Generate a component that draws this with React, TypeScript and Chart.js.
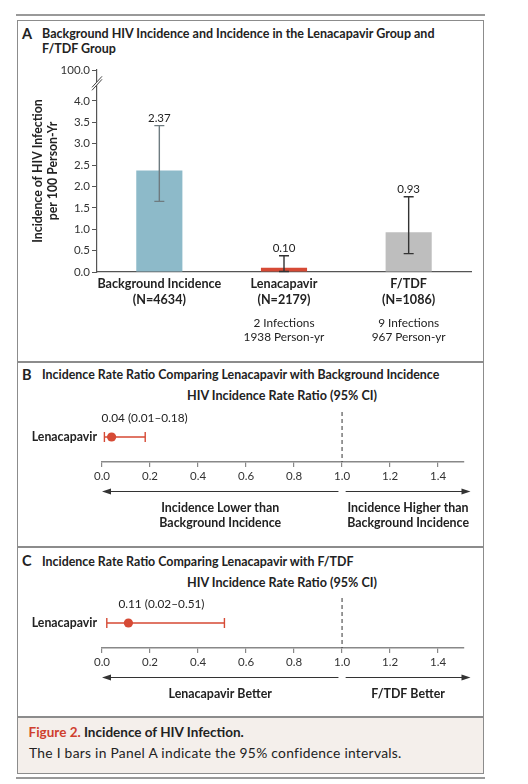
import React, { useEffect, useRef } from "react";
import { Chart, registerables } from "chart.js";

Chart.register(...registerables);

const FONT = "Lato, 'Open Sans', sans-serif";

// ---------- Panel A data ----------
const categories = ["Background Incidence", "Lenacapavir", "F/TDF"];
const sampleSizes = ["(N=4634)", "(N=2179)", "(N=1086)"];
const incidence = [2.37, 0.1, 0.93];
const ciLow = [1.65, 0.01, 0.43];
const ciHigh = [3.42, 0.38, 1.76];
const infectionLine1 = ["", "2 Infections", "9 Infections"];
const infectionLine2 = ["", "1938 Person-yr", "967 Person-yr"];
const barColors = ["#8dbac9", "#d64a35", "#bebebe"];
const errColors = ["#6e7b80", "#333333", "#333333"];
const yTicks = [0, 0.5, 1, 1.5, 2, 2.5, 3, 3.5, 4];
const yBreakValue = 4.72;
const yBreakLabel = "100.0";
const yTitle = ["Incidence of HIV Infection", "per 100 Person-Yr"];

// ---------- Panels B / C data ----------
const rrLabel = "Lenacapavir";
const rrEst = [0.04, 0.11];
const rrLow = [0.01, 0.02];
const rrHigh = [0.18, 0.51];
const rrText = ["0.04 (0.01\u20130.18)", "0.11 (0.02\u20130.51)"];
const rrTicks = [0, 0.2, 0.4, 0.6, 0.8, 1.0, 1.2, 1.4];
const rrMax = 1.508;
const leftNotes = [["Incidence Lower than", "Background Incidence"], ["Lenacapavir Better"]];
const rightNotes = [["Incidence Higher than", "Background Incidence"], ["F/TDF Better"]];
const RED = "#d64a35";

function barPlugin() {
  return {
    id: "barExtras",
    afterDatasetsDraw(chart: any) {
      const ctx = chart.ctx;
      const xs = chart.scales.x;
      const ys = chart.scales.y;
      ctx.save();
      for (let i = 0; i < categories.length; i++) {
        const x = xs.getPixelForValue(i);
        const yl = ys.getPixelForValue(ciLow[i]);
        const yh = ys.getPixelForValue(ciHigh[i]);
        ctx.strokeStyle = errColors[i];
        ctx.lineWidth = 1.4;
        ctx.beginPath();
        ctx.moveTo(x, yl);
        ctx.lineTo(x, yh);
        ctx.moveTo(x - 5, yl);
        ctx.lineTo(x + 5, yl);
        ctx.moveTo(x - 5, yh);
        ctx.lineTo(x + 5, yh);
        ctx.stroke();
        ctx.fillStyle = "#222";
        ctx.font = `11.5px ${FONT}`;
        ctx.textAlign = "center";
        ctx.textBaseline = "middle";
        ctx.fillText(incidence[i].toFixed(2), x, yh - 7);
        // category labels
        ctx.font = `bold 12.6px ${FONT}`;
        ctx.fillText(categories[i], x, ys.bottom + 11.5);
        ctx.fillText(sampleSizes[i], x, ys.bottom + 27.5);
        ctx.font = `11.8px ${FONT}`;
        ctx.fillText(infectionLine1[i], x, ys.bottom + 51);
        ctx.fillText(infectionLine2[i], x, ys.bottom + 65);
      }
      // axis break
      const yTop = ys.getPixelForValue(yBreakValue);
      const y4 = ys.getPixelForValue(4);
      const yb = yTop * 0.6 + y4 * 0.4;
      const ax = xs.left;
      ctx.fillStyle = "#fff";
      ctx.beginPath();
      ctx.moveTo(ax - 4, yb + 4);
      ctx.lineTo(ax + 4, yb - 5);
      ctx.lineTo(ax + 4, yb - 2);
      ctx.lineTo(ax - 4, yb + 7);
      ctx.closePath();
      ctx.fill();
      ctx.strokeStyle = "#444";
      ctx.lineWidth = 1;
      ctx.beginPath();
      ctx.moveTo(ax - 5, yb + 5);
      ctx.lineTo(ax + 5, yb - 6);
      ctx.moveTo(ax - 5, yb + 8);
      ctx.lineTo(ax + 5, yb - 3);
      ctx.stroke();
      // y title
      ctx.translate(38, (ys.top + ys.bottom) / 2);
      ctx.rotate(-Math.PI / 2);
      ctx.fillStyle = "#222";
      ctx.font = `bold 12.3px ${FONT}`;
      ctx.textAlign = "center";
      ctx.textBaseline = "middle";
      ctx.fillText(yTitle[0], 0, 0);
      ctx.fillText(yTitle[1], 0, 15.5);
      ctx.restore();
    },
  };
}

function forestPlugin(k: number) {
  return {
    id: "forest" + k,
    beforeDatasetsDraw(chart: any) {
      const ctx = chart.ctx;
      const xs = chart.scales.x;
      const ys = chart.scales.y;
      const y = ys.getPixelForValue(0.5);
      ctx.save();
      const x1 = xs.getPixelForValue(1);
      ctx.strokeStyle = "#333";
      ctx.lineWidth = 1;
      ctx.setLineDash([4, 3]);
      ctx.beginPath();
      ctx.moveTo(x1, ys.top);
      ctx.lineTo(x1, ys.bottom);
      ctx.stroke();
      ctx.setLineDash([]);
      const xl = xs.getPixelForValue(rrLow[k]);
      const xh = xs.getPixelForValue(rrHigh[k]);
      ctx.strokeStyle = RED;
      ctx.lineWidth = 1.4;
      ctx.beginPath();
      ctx.moveTo(xl, y);
      ctx.lineTo(xh, y);
      ctx.moveTo(xl, y - 5);
      ctx.lineTo(xl, y + 5);
      ctx.moveTo(xh, y - 5);
      ctx.lineTo(xh, y + 5);
      ctx.stroke();
      const xe = xs.getPixelForValue(rrEst[k]);
      ctx.fillStyle = "#222";
      ctx.font = `11.8px ${FONT}`;
      ctx.textAlign = "left";
      ctx.textBaseline = "middle";
      ctx.fillText(rrText[k], xe - 10, ys.top + 6.5);
      ctx.font = `bold 12.3px ${FONT}`;
      ctx.textAlign = "right";
      ctx.fillText(rrLabel, 97, y);
      const ay = ys.bottom + 29.5;
      const aL0 = xs.getPixelForValue(0);
      const aL1 = xs.getPixelForValue(0.985);
      const aR0 = xs.getPixelForValue(1.015);
      const aR1 = xs.getPixelForValue(1.535);
      ctx.strokeStyle = "#333";
      ctx.fillStyle = "#333";
      ctx.lineWidth = 1.1;
      ctx.beginPath();
      ctx.moveTo(aL1, ay);
      ctx.lineTo(aL0 + 4, ay);
      ctx.moveTo(aR0, ay);
      ctx.lineTo(aR1 - 4, ay);
      ctx.stroke();
      ctx.beginPath();
      ctx.moveTo(aL0, ay);
      ctx.lineTo(aL0 + 9, ay - 3);
      ctx.lineTo(aL0 + 9, ay + 3);
      ctx.closePath();
      ctx.fill();
      ctx.beginPath();
      ctx.moveTo(aR1, ay);
      ctx.lineTo(aR1 - 9, ay - 3);
      ctx.lineTo(aR1 - 9, ay + 3);
      ctx.closePath();
      ctx.fill();
      ctx.fillStyle = "#222";
      ctx.font = `bold 12.4px ${FONT}`;
      ctx.textAlign = "center";
      leftNotes[k].forEach((t, j) => ctx.fillText(t, (aL0 + aL1) / 2, ys.bottom + 46 + j * 14.7));
      rightNotes[k].forEach((t, j) => ctx.fillText(t, (aR0 + aR1) / 2, ys.bottom + 46 + j * 14.7));
      ctx.restore();
    },
  };
}

function makeForest(canvas: HTMLCanvasElement, k: number, padTop: number, padBottom: number) {
  return new Chart(canvas, {
    type: "scatter",
    data: {
      datasets: [
        {
          data: [{ x: rrEst[k], y: 0.5 }],
          pointRadius: 4.6,
          pointBackgroundColor: RED,
          pointBorderColor: RED,
          pointBorderWidth: 0,
        },
      ],
    },
    options: {
      responsive: false,
      animation: false,
      events: [],
      layout: { padding: { left: 102, right: 64, top: padTop, bottom: padBottom } },
      plugins: { legend: { display: false }, tooltip: { enabled: false } },
      scales: {
        x: {
          type: "linear",
          min: 0,
          max: rrMax,
          afterBuildTicks: (s: any) => {
            s.ticks = rrTicks.map((v) => ({ value: v }));
          },
          afterFit: (s: any) => {
            s.height = 25;
          },
          ticks: {
            callback: (v: any) => Number(v).toFixed(1),
            color: "#333",
            font: { family: FONT, size: 11.5 },
            padding: 2,
            maxRotation: 0,
          },
          grid: { display: true, drawOnChartArea: false, drawTicks: true, tickLength: 5, color: "#888", lineWidth: 1.2 },
          border: { display: true, color: "#888", width: 1.5 },
        },
        y: { display: false, min: 0, max: 1 },
      },
    } as any,
    plugins: [forestPlugin(k)],
  });
}

function Txt(props: {
  x: number;
  y: number;
  size: number;
  bold?: boolean;
  color?: string;
  spacing?: number;
  align?: "left" | "center" | "right";
  children: React.ReactNode;
}) {
  const lh = props.size * 1.25;
  const tr = props.align === "center" ? "translateX(-50%)" : props.align === "right" ? "translateX(-100%)" : undefined;
  return (
    <div
      style={{
        position: "absolute",
        left: props.x,
        top: props.y - lh / 2,
        fontSize: props.size,
        lineHeight: lh + "px",
        fontWeight: props.bold ? 700 : 400,
        color: props.color || "#222",
        whiteSpace: "nowrap",
        letterSpacing: props.spacing ? props.spacing + "px" : undefined,
        transform: tr,
        fontFamily: FONT,
      }}
    >
      {props.children}
    </div>
  );
}

export default function App() {
  const refA = useRef<HTMLCanvasElement>(null);
  const refB = useRef<HTMLCanvasElement>(null);
  const refC = useRef<HTMLCanvasElement>(null);

  useEffect(() => {
    Chart.defaults.font.family = FONT;
    const chartA = new Chart(refA.current!, {
      type: "bar",
      data: {
        labels: categories,
        datasets: [
          {
            data: incidence,
            backgroundColor: barColors,
            borderWidth: 0,
            barPercentage: 0.37,
            categoryPercentage: 1,
          },
        ],
      },
      options: {
        responsive: false,
        animation: false,
        events: [],
        layout: { padding: { left: 0, top: 70, right: 57, bottom: 50 } },
        plugins: { legend: { display: false }, tooltip: { enabled: false } },
        scales: {
          x: {
            type: "category",
            offset: true,
            grid: { display: false },
            border: { display: true, color: "#555", width: 1.2 },
            afterFit: (s: any) => {
              s.height = 40;
            },
            ticks: { display: false },
          },
          y: {
            min: 0,
            max: yBreakValue,
            afterBuildTicks: (s: any) => {
              s.ticks = [...yTicks, yBreakValue].map((v) => ({ value: v }));
            },
            afterFit: (s: any) => {
              s.width = 97;
            },
            ticks: {
              callback: (v: any) => (Number(v) > 4.5 ? yBreakLabel : Number(v).toFixed(1)),
              color: "#333",
              font: { family: FONT, size: 11.5 },
              padding: 2,
            },
            grid: { display: true, drawOnChartArea: false, drawTicks: true, tickLength: 5, color: "#555", lineWidth: 1 },
            border: { display: true, color: "#555", width: 1.2 },
          },
        },
      } as any,
      plugins: [barPlugin()],
    });
    const chartB = makeForest(refB.current!, 0, 50, 60);
    const chartC = makeForest(refC.current!, 1, 51, 44);
    return () => {
      chartA.destroy();
      chartB.destroy();
      chartC.destroy();
    };
  }, []);

  const frame = "#8c8c8c";
  return (
    <div style={{ position: "absolute", left: 0, top: 0, width: 528, height: 784, background: "#fff", fontFamily: FONT }}>
      <div style={{ position: "absolute", left: 16, top: 14, width: 469, height: 1.5, background: "#999" }} />
      <div style={{ position: "absolute", left: 18, top: 718, width: 465, height: 55, background: "#f4efeb" }} />
      <div
        style={{
          position: "absolute",
          left: 17,
          top: 20,
          width: 467,
          height: 754,
          border: `1.5px solid ${frame}`,
          boxSizing: "border-box",
        }}
      />
      {[362, 547, 717].map((y) => (
        <div key={y} style={{ position: "absolute", left: 17, top: y - 0.75, width: 467, height: 1.5, background: frame }} />
      ))}
      <div style={{ position: "absolute", left: 16, top: 777, width: 469, height: 2, background: "#999" }} />

      <Txt x={22} y={34} size={14.5} bold>A</Txt>
      <Txt x={42} y={34} size={12.5} bold>Background HIV Incidence and Incidence in the Lenacapavir Group and</Txt>
      <Txt x={42} y={49} size={12.5} bold>F/TDF Group</Txt>

      <Txt x={22} y={375} size={14.5} bold>B</Txt>
      <Txt x={42} y={375} size={12.4} bold>Incidence Rate Ratio Comparing Lenacapavir with Background Incidence</Txt>
      <Txt x={282} y={396} size={12.6} bold align="center">HIV Incidence Rate Ratio (95% CI)</Txt>

      <Txt x={22} y={561.5} size={14.5} bold>C</Txt>
      <Txt x={42} y={561.5} size={12.4} bold>Incidence Rate Ratio Comparing Lenacapavir with F/TDF</Txt>
      <Txt x={282} y={583} size={12.6} bold align="center">HIV Incidence Rate Ratio (95% CI)</Txt>

      <Txt x={28.5} y={732.5} size={13.5} bold>
        <span style={{ color: "#cf3f2e" }}>Figure 2.</span> Incidence of HIV Infection.
      </Txt>
      <Txt x={29} y={753} size={13.8} spacing={0.28}>The I bars in Panel A indicate the 95% confidence intervals.</Txt>

      <canvas ref={refA} width={528} height={362} style={{ position: "absolute", left: 0, top: 0, display: "block" }} />
      <canvas ref={refB} width={528} height={185} style={{ position: "absolute", left: 0, top: 362, display: "block" }} />
      <canvas ref={refC} width={528} height={170} style={{ position: "absolute", left: 0, top: 547, display: "block" }} />
    </div>
  );
}
